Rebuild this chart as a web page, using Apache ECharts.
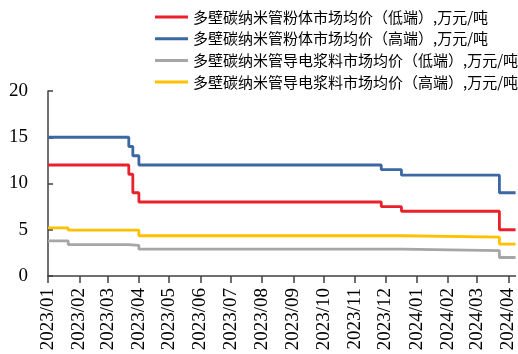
<!DOCTYPE html>
<html><head><meta charset="utf-8">
<script src="https://cdn.jsdelivr.net/npm/echarts@6/dist/echarts.min.js"></script>
<style>html,body{margin:0;padding:0;background:#fff}#c{width:518px;height:354px}</style>
</head><body><div id="c"></div>
<script>
var seriesNames = [
  '多壁碳纳米管粉体市场均价（低端）,万元/吨',
  '多壁碳纳米管粉体市场均价（高端）,万元/吨',
  '多壁碳纳米管导电浆料市场均价（低端）,万元/吨',
  '多壁碳纳米管导电浆料市场均价（高端）,万元/吨'
];
// change points: [date, new value]
var powderLow = [['2023-01-01',12],['2023-03-22',11],['2023-03-26',9],['2023-04-01',8],['2023-11-27',7.5],['2023-12-17',7],['2024-03-23',5],['2024-04-08',5]];
var powderHigh = [['2023-01-01',15],['2023-03-22',14],['2023-03-26',13],['2023-04-01',12],['2023-11-27',11.5],['2023-12-17',10.9],['2024-03-23',9],['2024-04-08',9]];
var slurryLow = [['2023-01-01',3.8],['2023-01-21',3.4],['2023-03-22',3.3],['2023-04-01',2.9],['2023-12-17',2.75],['2024-03-23',2.0],['2024-04-08',2.0]];
var slurryHigh = [['2023-01-01',5.2],['2023-01-21',4.95],['2023-04-01',4.35],['2023-12-17',4.2],['2024-03-23',3.45],['2024-04-08',3.45]];
var monthTicks = ['2023-01-01','2023-02-01','2023-03-01','2023-04-01','2023-05-01','2023-06-01','2023-07-01','2023-08-01','2023-09-01','2023-10-01','2023-11-01','2023-12-01','2024-01-01','2024-02-01','2024-03-01','2024-04-01'];
var xMin = '2023-01-01', xMax = '2024-04-08';
var yTicks = [0,5,10,15,20];

var colors = ['#E8212B','#3B67A3','#A6A6A6','#FFC000'];
var datas = [powderLow, powderHigh, slurryLow, slurryHigh];
function ts(d){ return Date.UTC(+d.slice(0,4), +d.slice(5,7)-1, +d.slice(8,10)); }
var chart = echarts.init(document.getElementById('c'), null, {renderer:'canvas'});
var tickVals = monthTicks.map(ts);
chart.setOption({
  animation:false,
  color: colors,
  grid:{left:48, right:1, top:91, bottom:78},
  legend:{
    orient:'vertical', left:155, top:9.5, padding:0, icon:'rect', itemWidth:33, itemHeight:3, itemGap:6.7,
    textStyle:{fontFamily:'Noto Sans CJK SC', fontSize:15, color:'#000'},
    data: seriesNames
  },
  xAxis:{
    type:'value', min: ts(xMin), max: ts(xMax),
    axisLine:{lineStyle:{color:'#404040', width:1.5}},
    axisTick:{show:true, customValues: tickVals, length:7, lineStyle:{color:'#404040', width:1.5}},
    axisLabel:{customValues: tickVals, rotate:90, margin:12, fontFamily:'Liberation Serif', fontSize:19, color:'#000',
      formatter:function(v){ var d=new Date(v); var m=d.getUTCMonth()+1; return d.getUTCFullYear()+'/'+(m<10?'0'+m:m); }},
    splitLine:{show:false}
  },
  yAxis:{
    type:'value', min:yTicks[0], max:yTicks[yTicks.length-1], interval:5,
    axisLine:{show:true, lineStyle:{color:'#404040', width:1.5}},
    axisTick:{show:true, inside:true, length:5, lineStyle:{color:'#404040', width:1.5}},
    axisLabel:{margin:20, fontFamily:'Liberation Serif', fontSize:19, color:'#000'},
    splitLine:{show:false}
  },
  series: seriesNames.map(function(n,i){
    return {name:n, type:'line', step:'end', symbol:'none', showSymbol:false,
      lineStyle:{width:2.8, color:colors[i]}, itemStyle:{color:colors[i]},
      data: datas[i].map(function(p){ return [ts(p[0]), p[1]]; })};
  })
});
</script></body></html>
